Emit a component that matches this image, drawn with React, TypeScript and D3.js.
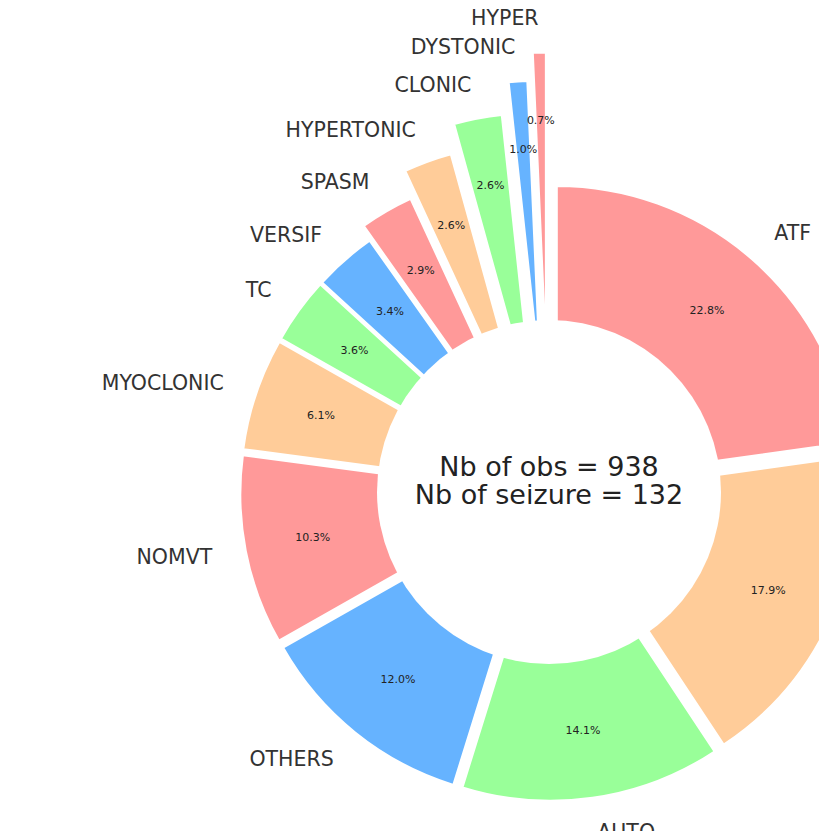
import React from "react";
import * as d3 from "d3";

const categories = ["ATF", "TONIC", "AUTO", "OTHERS", "NOMVT", "MYOCLONIC", "TC", "VERSIF", "SPASM", "HYPERTONIC", "CLONIC", "DYSTONIC", "HYPER"];
const percents = [22.8, 17.9, 14.1, 12.0, 10.3, 6.1, 3.6, 3.4, 2.9, 2.6, 2.6, 1.0, 0.7];
const explode = [0.04, 0.04, 0.04, 0.04, 0.04, 0.04, 0.04, 0.04, 0.092, 0.185, 0.28, 0.386, 0.48];
const palette = ["#ff9999", "#ffcc99", "#99ff99", "#66b3ff"];
const centerLines = ["Nb of obs = 938", "Nb of seizure = 132"];

const W = 819;
const H = 831;
const cx = 549;
const cy = 492;
const R = 297;
const holeR = 172;
const pctDist = 0.77;
const labelDist = 1.115;

export default function App() {
  const pie = d3.pie<number>().sort(null).value((d) => d);
  const arcs = pie(percents);
  const arcGen = d3.arc<d3.PieArcDatum<number>>().innerRadius(0).outerRadius(R);
  const font = "DejaVu Sans, sans-serif";

  return (
    <svg width={W} height={H} style={{ position: "absolute", left: 0, top: 0, background: "#fff" }}>
      <g transform={`translate(${cx},${cy})`}>
        {arcs.map((a, i) => {
          const mid = (a.startAngle + a.endAngle) / 2;
          const off = explode[i] * R;
          const ox = off * Math.sin(mid);
          const oy = -off * Math.cos(mid);
          return (
            <path
              key={categories[i]}
              d={arcGen(a) || ""}
              transform={`translate(${ox},${oy})`}
              fill={palette[i % palette.length]}
              stroke="#ffffff"
              strokeWidth={2}
            />
          );
        })}
        <circle r={holeR} fill="#ffffff" />
        {arcs.map((a, i) => {
          const mid = (a.startAngle + a.endAngle) / 2;
          const off = explode[i] * R;
          const dx = Math.sin(mid);
          const dy = -Math.cos(mid);
          const pr = off + pctDist * R;
          const lr = off + labelDist * R;
          const lx = lr * dx;
          const ly = lr * dy;
          return (
            <g key={"t" + categories[i]}>
              <text
                x={pr * dx}
                y={pr * dy}
                textAnchor="middle"
                dominantBaseline="central"
                fontFamily={font}
                fontSize={11}
                fill="#222"
              >
                {percents[i].toFixed(1) + "%"}
              </text>
              <text
                x={lx}
                y={ly}
                textAnchor={lx >= 0 ? "start" : "end"}
                dominantBaseline="central"
                fontFamily={font}
                fontSize={20.5}
                fill="#333"
              >
                {categories[i]}
              </text>
            </g>
          );
        })}
        {centerLines.map((t, i) => (
          <text
            key={t}
            x={0}
            y={-26 + i * 28}
            textAnchor="middle"
            dominantBaseline="central"
            fontFamily={font}
            fontSize={27}
            fill="#222"
          >
            {t}
          </text>
        ))}
      </g>
    </svg>
  );
}
